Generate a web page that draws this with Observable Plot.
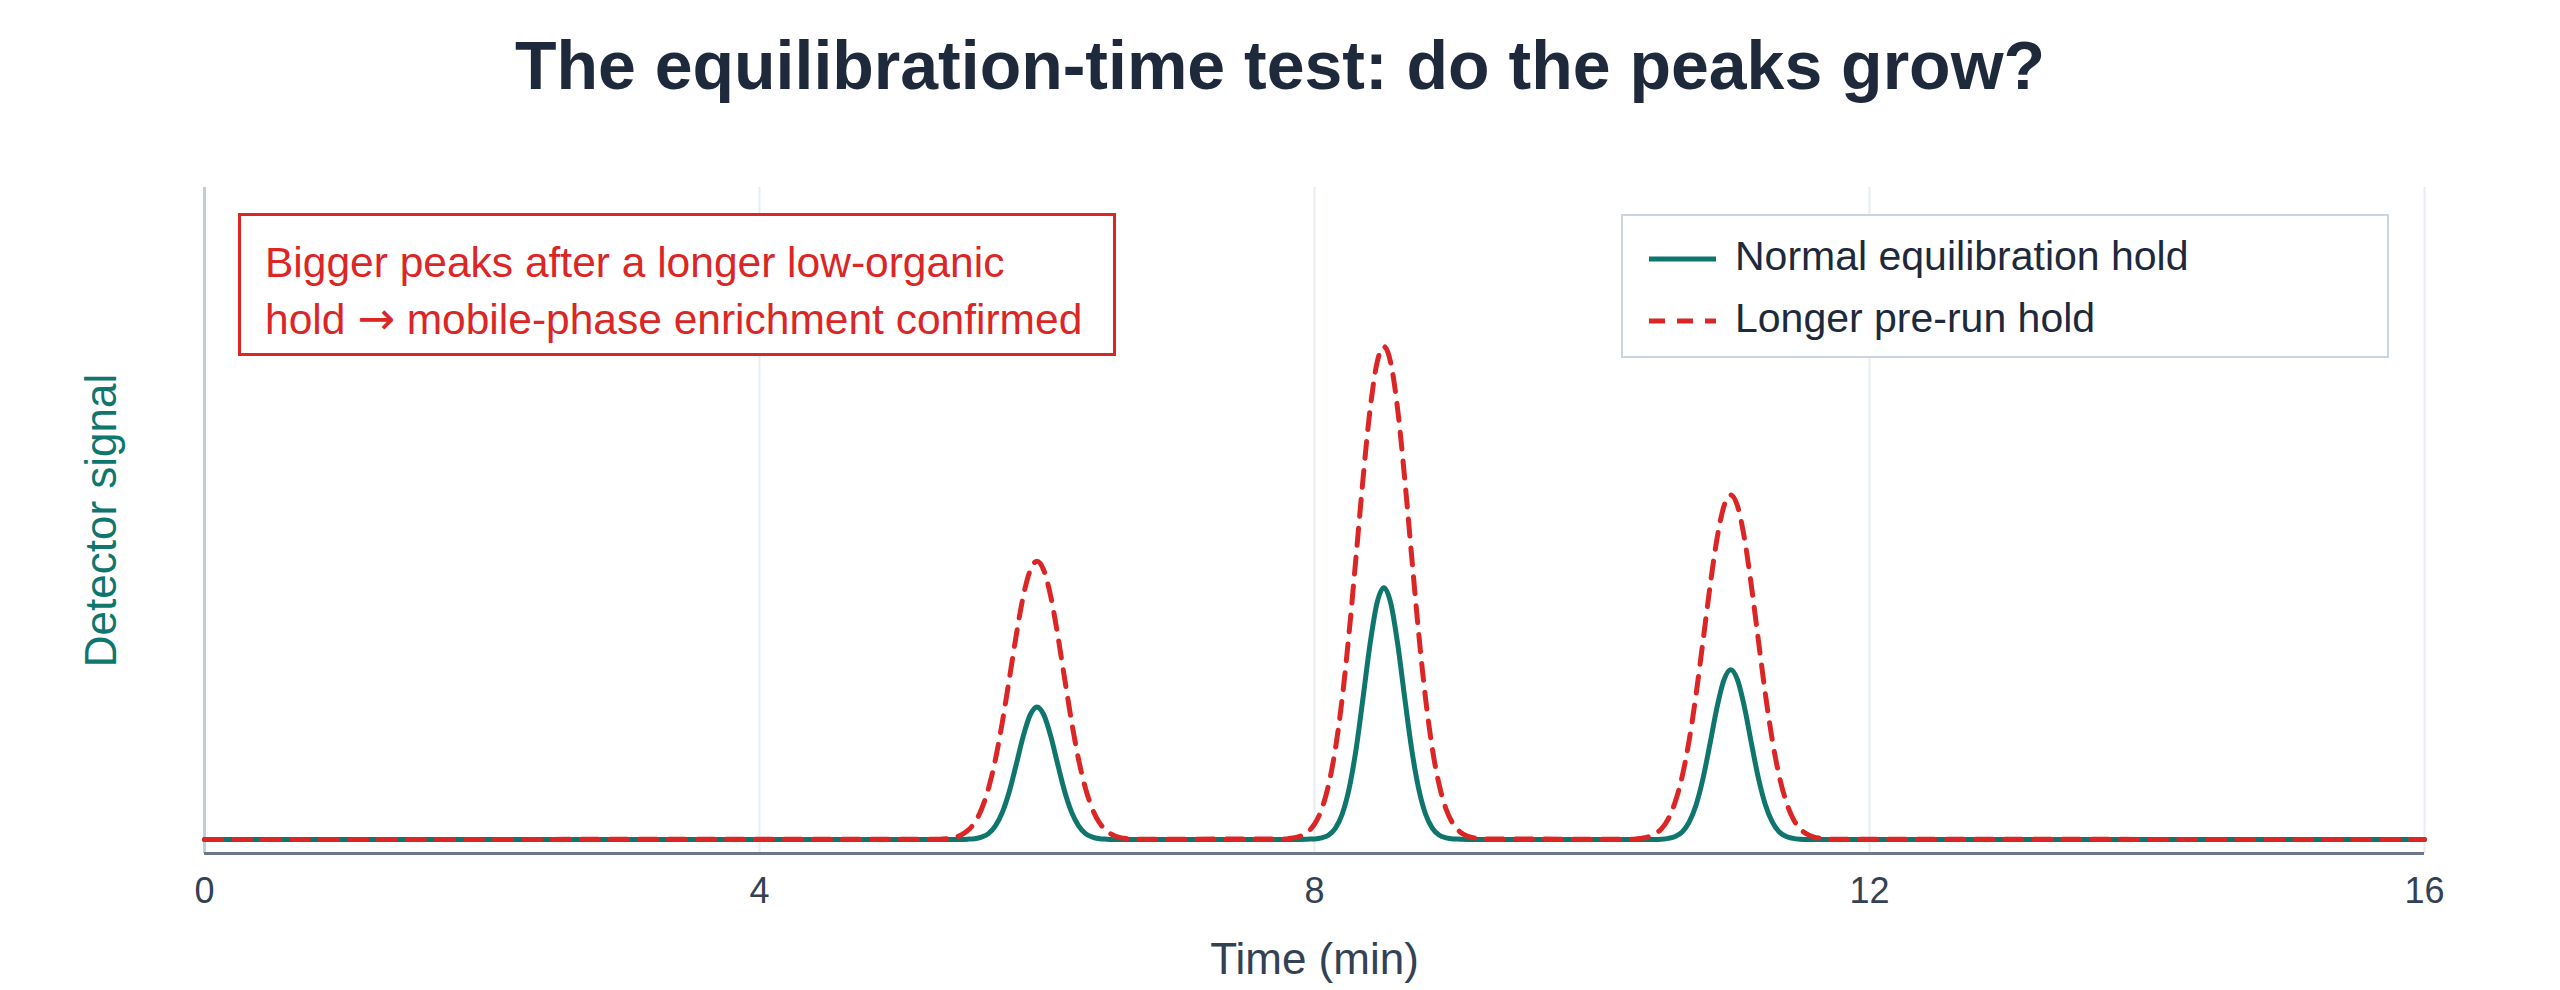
<!DOCTYPE html>
<html>
<head>
<meta charset="utf-8">
<script src="https://cdn.jsdelivr.net/npm/d3@7"></script>
<script src="https://cdn.jsdelivr.net/npm/@observablehq/plot@0.6"></script>
<style>
  html, body { margin: 0; padding: 0; background: #ffffff; }
  body { font-family: "Liberation Sans", Arial, sans-serif; }
  #wrap { position: relative; width: 2560px; height: 990px; overflow: hidden; }
  #title { box-sizing: border-box; height: 110px; padding-top: 31px; line-height: 68px; font-size: 68px; font-weight: bold; color: #1e293b; text-align: center; white-space: nowrap; }
  #chart svg { display: block; }
  #noteBox { position: absolute; left: 238px; top: 213px; width: 878px; height: 143px; box-sizing: border-box; border: 3px solid #dc2626; background: #ffffff; }
  #noteText { position: absolute; left: 265px; top: 234px; font-size: 42.5px; line-height: 57px; color: #dc2626; white-space: nowrap; }
  #noteText .arrow { font-family: "DejaVu Sans", sans-serif; font-size: 45px; line-height: 0; }
  #legendBox { position: absolute; left: 1621px; top: 214px; width: 768px; height: 144px; box-sizing: border-box; border: 2.5px solid #cbd5e1; background: #ffffff; }
  .legText { position: absolute; left: 1735px; font-size: 41px; line-height: 41px; color: #1e293b; white-space: nowrap; }
  .legSwatch { position: absolute; left: 1649px; width: 67px; height: 10px; }
</style>
</head>
<body>
<div id="wrap">
  <div id="title"></div>
  <div id="chart"></div>
  <div id="noteBox"></div>
  <div id="noteText"></div>
  <div id="legendBox"></div>
  <div id="legendRows"></div>
</div>
<script>
// ---- data ----
const chartTitle = "The equilibration-time test: do the peaks grow?";
const xLabel = "Time (min)";
const yLabel = "Detector signal";
const noteLine1 = "Bigger peaks after a longer low-organic";
const noteLine2a = "hold ";
const noteArrow = "\u2192";
const noteLine2b = " mobile-phase enrichment confirmed";
const seriesNames = ["Normal equilibration hold", "Longer pre-run hold"];
const seriesColors = ["#0f766e", "#dc2626"];
const xTicks = [0, 4, 8, 12, 16];
const yDomain = [-0.053, 2.46];

const timeMin = [
  0,
  5.3, 5.35, 5.4, 5.45, 5.5, 5.55, 5.6, 5.65, 5.7, 5.75, 5.8, 5.85, 5.9, 5.95, 6, 6.05, 6.1, 6.15, 6.2, 6.25, 6.3, 6.35, 6.4, 6.45, 6.5, 6.55, 6.6, 6.65, 6.7,
  7.8, 7.85, 7.9, 7.95, 8, 8.05, 8.1, 8.15, 8.2, 8.25, 8.3, 8.35, 8.4, 8.45, 8.5, 8.55, 8.6, 8.65, 8.7, 8.75, 8.8, 8.85, 8.9, 8.95, 9, 9.05, 9.1, 9.15, 9.2,
  10.3, 10.35, 10.4, 10.45, 10.5, 10.55, 10.6, 10.65, 10.7, 10.75, 10.8, 10.85, 10.9, 10.95, 11, 11.05, 11.1, 11.15, 11.2, 11.25, 11.3, 11.35, 11.4, 11.45, 11.5, 11.55, 11.6, 11.65, 11.7,
  16
];

const normalHold = [
  0,
  0, 0, 0, 0, 0.001, 0.003, 0.009, 0.022, 0.051, 0.102, 0.18, 0.282, 0.388, 0.469, 0.5, 0.469, 0.388, 0.282, 0.18, 0.102, 0.051, 0.022, 0.009, 0.003, 0.001, 0, 0, 0, 0,
  0, 0, 0, 0.001, 0.002, 0.006, 0.016, 0.042, 0.096, 0.193, 0.342, 0.535, 0.736, 0.891, 0.95, 0.891, 0.736, 0.535, 0.342, 0.193, 0.096, 0.042, 0.016, 0.006, 0.002, 0.001, 0, 0, 0,
  0, 0, 0, 0, 0.001, 0.004, 0.011, 0.028, 0.065, 0.13, 0.23, 0.36, 0.496, 0.6, 0.64, 0.6, 0.496, 0.36, 0.23, 0.13, 0.065, 0.028, 0.011, 0.004, 0.001, 0, 0, 0, 0,
  0
];

const longerHold = [
  0,
  0.001, 0.003, 0.007, 0.016, 0.033, 0.063, 0.114, 0.192, 0.301, 0.442, 0.604, 0.769, 0.915, 1.014, 1.05, 1.014, 0.915, 0.769, 0.604, 0.442, 0.301, 0.192, 0.114, 0.063, 0.033, 0.016, 0.007, 0.003, 0.001,
  0.002, 0.006, 0.013, 0.028, 0.058, 0.112, 0.203, 0.34, 0.534, 0.783, 1.07, 1.362, 1.62, 1.797, 1.86, 1.797, 1.62, 1.362, 1.07, 0.783, 0.534, 0.34, 0.203, 0.112, 0.058, 0.028, 0.013, 0.006, 0.002,
  0.001, 0.004, 0.009, 0.02, 0.04, 0.078, 0.142, 0.238, 0.373, 0.547, 0.748, 0.952, 1.132, 1.256, 1.3, 1.256, 1.132, 0.952, 0.748, 0.547, 0.373, 0.238, 0.142, 0.078, 0.04, 0.02, 0.009, 0.004, 0.001,
  0
];

// ---- build tables ----
const normalRows = timeMin.map((t, i) => ({ t, v: normalHold[i], s: seriesNames[0] }));
const longerRows = timeMin.map((t, i) => ({ t, v: longerHold[i], s: seriesNames[1] }));

document.getElementById("title").textContent = chartTitle;
const nt = document.getElementById("noteText");
const l1 = document.createElement("div"); l1.textContent = noteLine1; nt.appendChild(l1);
const l2 = document.createElement("div");
l2.appendChild(document.createTextNode(noteLine2a));
const ar = document.createElement("span"); ar.className = "arrow"; ar.textContent = noteArrow; l2.appendChild(ar);
l2.appendChild(document.createTextNode(noteLine2b));
nt.appendChild(l2);

const chart = Plot.plot({
  width: 2560,
  height: 880,
  marginLeft: 204,
  marginRight: 136,
  marginTop: 77,
  marginBottom: 137,
  style: { fontFamily: "'Liberation Sans', Arial, sans-serif", fontSize: "36px", color: "#334155", background: "#ffffff", overflow: "visible" },
  x: { domain: [xTicks[0], xTicks[xTicks.length - 1]] },
  y: { domain: yDomain, axis: null },
  marks: [
    Plot.gridX(xTicks, { stroke: "#e8edf3", strokeOpacity: 1, strokeWidth: 2 }),
    Plot.ruleX([xTicks[0]], { stroke: "#c3cbd9", strokeWidth: 3 }),
    Plot.ruleY([yDomain[0]], { stroke: "#6b778b", strokeWidth: 3 }),
    Plot.lineY(normalRows, { x: "t", y: "v", stroke: seriesColors[0], strokeWidth: 5, curve: "monotone-x" }),
    Plot.lineY(longerRows, { x: "t", y: "v", stroke: seriesColors[1], strokeWidth: 5, strokeDasharray: "17,12", curve: "monotone-x" }),
    Plot.axisX(xTicks, { tickSize: 0, tickPadding: 24, fontSize: 36, fill: "#334155", label: null, tickFormat: d => String(d) }),
    Plot.text([xLabel], { frameAnchor: "bottom", dy: 106, lineAnchor: "middle", fontSize: 44, fill: "#334155" }),
    Plot.text([yLabel], { frameAnchor: "left", dx: -103, rotate: -90, textAnchor: "middle", lineAnchor: "middle", fontSize: 44, fill: seriesColors[0] })
  ]
});
document.getElementById("chart").appendChild(chart);

// ---- legend ----
const rowsCenters = [259, 321];
const legendRows = document.getElementById("legendRows");
seriesNames.forEach((name, i) => {
  const sw = document.createElementNS("http://www.w3.org/2000/svg", "svg");
  sw.setAttribute("class", "legSwatch");
  sw.setAttribute("width", "67");
  sw.setAttribute("height", "10");
  sw.style.top = (rowsCenters[i] - 5) + "px";
  const ln = document.createElementNS("http://www.w3.org/2000/svg", "line");
  ln.setAttribute("x1", "0"); ln.setAttribute("x2", "67");
  ln.setAttribute("y1", "5"); ln.setAttribute("y2", "5");
  ln.setAttribute("stroke", seriesColors[i]);
  ln.setAttribute("stroke-width", "5");
  if (i === 1) ln.setAttribute("stroke-dasharray", "16,12");
  sw.appendChild(ln);
  legendRows.appendChild(sw);
  const tx = document.createElement("div");
  tx.className = "legText";
  tx.textContent = name;
  tx.style.top = (rowsCenters[i] + 12 - 35) + "px";
  legendRows.appendChild(tx);
});
</script>
</body>
</html>
